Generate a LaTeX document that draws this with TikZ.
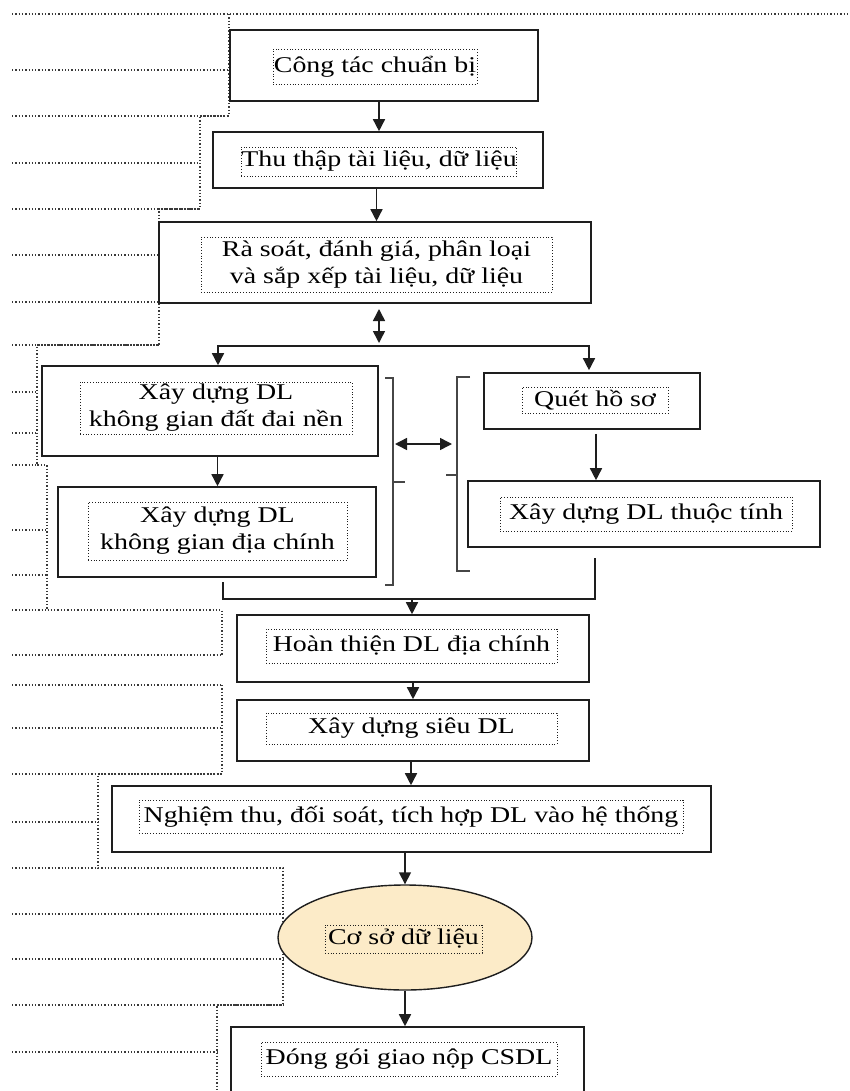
\documentclass[tikz,border=0pt]{standalone}
\usepackage{fontspec}
\setmainfont{Liberation Serif}[FakeStretch=1.24]
\usepackage{xcolor}
\usepackage{tikz}
\usetikzlibrary{arrows.meta,positioning,calc,shapes.geometric}
\definecolor{ink}{HTML}{1E1E1E}
\definecolor{dbfill}{HTML}{FCEBC8}

\begin{document}
\begin{tikzpicture}[x=1pt,y=-1pt,>=Stealth,
    box/.style={draw=ink,line width=1.6pt,fill=white,inner sep=0pt},
    txt/.style={draw=ink,dotted,line width=0.8pt,inner sep=0pt,align=center,
      font=\fontsize{22.5}{27}\selectfont},
    dbnode/.style={ellipse,draw=ink,line width=1.4pt,fill=dbfill,inner sep=0pt},
    guide/.style={gray!45!black,dotted,line width=1.3pt},
    arr/.style={ink,line width=1.5pt,-{Triangle[length=12pt,width=12pt]}},
    dbl/.style={ink,line width=1.5pt,{Triangle[length=12pt,width=12pt]}-{Triangle[length=12pt,width=12pt]}},
    brk/.style={gray!55!black,line width=1.3pt}]
  \useasboundingbox (0,0) rectangle (850,1091);
  \clip (0,0) rectangle (850,1091);
  % Dotted layout guides on the left
  \draw[guide] (12,14) -- (850,14);
  \draw[guide] (229,14) -- (229,116) -- (200,116) -- (200,209) -- (159,209) -- (159,345)
    -- (37,345) -- (37,465) -- (47,465) -- (47,610) -- (222,610) -- (222,655);
  \draw[guide] (222,685) -- (222,774) -- (98,774) -- (98,868) -- (283,868) -- (283,1005)
    -- (217,1005) -- (217,1091);
  \foreach \y/\x in {70/229,116/229,163/200,209/200,255/159,302/159,345/159,392/37,433/37,
      465/37,530/47,575/47,610/47,655/222,685/222,728/222,774/222,822/98,868/98,914/283,
      959/283,1005/283,1052/217}{
    \draw[guide] (12,\y) -- (\x,\y);
  }
  % Main column
  \node[box,minimum width=308pt,minimum height=71pt] (prep) at (384,65.5) {};
  \node[txt,minimum width=204pt,minimum height=35pt] (prepT) at (375,66.5) {Công tác chuẩn bị};
  \node[box,minimum width=330pt,minimum height=56pt] (collect) at (378,160) {};
  \node[txt,minimum width=274pt,minimum height=29pt] (collectT) at (379,161.5) {Thu thập tài liệu, dữ liệu};
  \node[box,minimum width=432pt,minimum height=81pt] (review) at (375,262.5) {};
  \node[txt,minimum width=351pt,minimum height=55pt] (reviewT) at (376.5,264.5)
    {Rà soát, đánh giá, phân loại\\và sắp xếp tài liệu, dữ liệu};
  % Two branches
  \node[box,minimum width=336pt,minimum height=90pt] (base) at (210,411) {};
  \node[txt,minimum width=272pt,minimum height=52pt] (baseT) at (216,408)
    {Xây dựng DL\\không gian đất đai nền};
  \node[box,minimum width=318pt,minimum height=90pt] (cadas) at (217,532) {};
  \node[txt,minimum width=259pt,minimum height=58pt] (cadasT) at (217.5,531)
    {Xây dựng DL\\không gian địa chính};
  \node[box,minimum width=216pt,minimum height=56pt] (scan) at (592,401) {};
  \node[txt,minimum width=146pt,minimum height=26pt] (scanT) at (595,400) {Quét hồ sơ};
  \node[box,minimum width=352pt,minimum height=66pt] (attr) at (644,514) {};
  \node[txt,minimum width=292pt,minimum height=34pt] (attrT) at (646,514) {Xây dựng DL thuộc tính};
  % Lower column
  \node[box,minimum width=352pt,minimum height=67pt] (finish) at (413,648.5) {};
  \node[txt,minimum width=291pt,minimum height=34pt] (finishT) at (411.5,646) {Hoàn thiện DL địa chính};
  \node[box,minimum width=352pt,minimum height=61pt] (meta) at (413,730.5) {};
  \node[txt,minimum width=291pt,minimum height=31pt] (metaT) at (411.5,728.5) {Xây dựng siêu DL};
  \node[box,minimum width=599pt,minimum height=66pt] (check) at (411.5,819) {};
  \node[txt,minimum width=544pt,minimum height=33pt] (checkT) at (411,816.5)
    {Nghiệm thu, đối soát, tích hợp DL vào hệ thống};
  \node[dbnode,minimum width=254pt,minimum height=105pt] (db) at (405,937.5) {};
  \node[txt,minimum width=157pt,minimum height=28pt] (dbT) at (403.5,939) {Cơ sở dữ liệu};
  \node[box,minimum width=353pt,minimum height=73pt] (pack) at (407.5,1063.5) {};
  \node[txt,minimum width=296pt,minimum height=34pt] (packT) at (409,1059) {Đóng gói giao nộp CSDL};
  % Brackets round the two branches
  \draw[brk] (385,378) -- (393,378) -- (393,585) -- (385,585);
  \draw[brk] (393,482) -- (405,482);
  \draw[brk] (470,377) -- (457,377) -- (457,571) -- (470,571);
  \draw[brk] (457,475) -- (446,475);
  \coordinate (linkL) at (395,444);
  \coordinate (linkR) at (452,444);
  \draw[dbl] (linkL) -- (linkR);
  % Arrows
  \draw[arr] (prep.south -| collectT) -- (collectT |- collect.north);
  \draw[arr] (collect.south -| reviewT) -- (reviewT |- review.north);
  \coordinate (splitTop) at (379,309);
  \coordinate (split) at (379,346);
  \draw[dbl] (splitTop) -- ($(split)+(0,-3)$);
  \draw[arr] (split) -| ($(base.north)+(8,0)$);
  \draw[arr] (split) -| ($(scan.north)+(-3,-2)$);
  \draw[arr] (base.south -| cadasT) -- (cadasT |- cadas.north);
  \draw[arr] ($(scan.south -| scanT)+(1,4)$) -- ($(scanT |- attr.north)+(1,0)$);
  \coordinate (attrEnd) at (595,558);
  \coordinate (cadasEnd) at (223,582);
  \coordinate (merge) at (412,599);
  \draw[ink,line width=1.5pt] (attrEnd) |- (merge) -| (cadasEnd);
  \draw[arr] (merge) -- (merge |- finish.north);
  \draw[arr] (finish.south) -- (finish.south |- meta.north);
  \draw[arr] (meta.south -| checkT) -- (checkT |- check.north);
  \draw[arr] (check.south -| db) -- (db.north);
  \draw[arr] (db.south) -- (db.south |- pack.north);
\end{tikzpicture}
\end{document}
